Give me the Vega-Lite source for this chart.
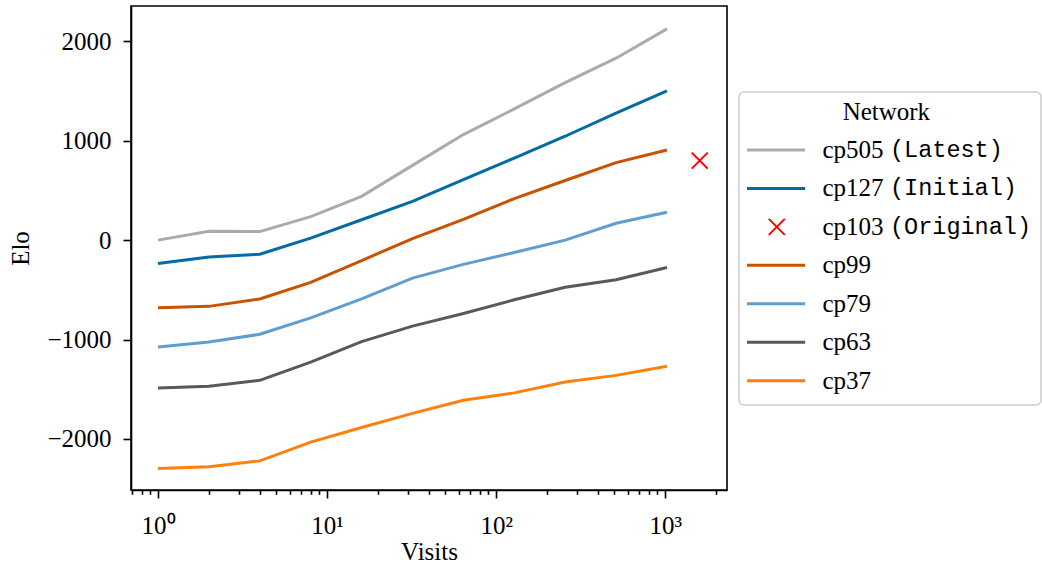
{
  "$schema": "https://vega.github.io/schema/vega-lite/v6.json",
  "background": "white",
  "padding": {"left": 7, "top": 5, "right": 0, "bottom": 0},
  "spacing": 10,
  "datasets": {
    "lines": [
      {"network": "cp505", "visits": 1, "elo": 0},
      {"network": "cp505", "visits": 2, "elo": 90},
      {"network": "cp505", "visits": 4, "elo": 86},
      {"network": "cp505", "visits": 8, "elo": 236},
      {"network": "cp505", "visits": 16, "elo": 440},
      {"network": "cp505", "visits": 32, "elo": 752},
      {"network": "cp505", "visits": 64, "elo": 1062},
      {"network": "cp505", "visits": 128, "elo": 1320},
      {"network": "cp505", "visits": 256, "elo": 1585},
      {"network": "cp505", "visits": 512, "elo": 1830},
      {"network": "cp505", "visits": 1024, "elo": 2125},
      {"network": "cp127", "visits": 1, "elo": -235},
      {"network": "cp127", "visits": 2, "elo": -170},
      {"network": "cp127", "visits": 4, "elo": -142},
      {"network": "cp127", "visits": 8, "elo": 20},
      {"network": "cp127", "visits": 16, "elo": 205},
      {"network": "cp127", "visits": 32, "elo": 390},
      {"network": "cp127", "visits": 64, "elo": 608},
      {"network": "cp127", "visits": 128, "elo": 826},
      {"network": "cp127", "visits": 256, "elo": 1045},
      {"network": "cp127", "visits": 512, "elo": 1278},
      {"network": "cp127", "visits": 1024, "elo": 1502},
      {"network": "cp99", "visits": 1, "elo": -680},
      {"network": "cp99", "visits": 2, "elo": -666},
      {"network": "cp99", "visits": 4, "elo": -592},
      {"network": "cp99", "visits": 8, "elo": -425},
      {"network": "cp99", "visits": 16, "elo": -205},
      {"network": "cp99", "visits": 32, "elo": 15},
      {"network": "cp99", "visits": 64, "elo": 208},
      {"network": "cp99", "visits": 128, "elo": 418},
      {"network": "cp99", "visits": 256, "elo": 600},
      {"network": "cp99", "visits": 512, "elo": 780},
      {"network": "cp99", "visits": 1024, "elo": 906},
      {"network": "cp79", "visits": 1, "elo": -1074},
      {"network": "cp79", "visits": 2, "elo": -1025},
      {"network": "cp79", "visits": 4, "elo": -947},
      {"network": "cp79", "visits": 8, "elo": -782},
      {"network": "cp79", "visits": 16, "elo": -590},
      {"network": "cp79", "visits": 32, "elo": -382},
      {"network": "cp79", "visits": 64, "elo": -244},
      {"network": "cp79", "visits": 128, "elo": -124},
      {"network": "cp79", "visits": 256, "elo": 0},
      {"network": "cp79", "visits": 512, "elo": 170},
      {"network": "cp79", "visits": 1024, "elo": 280},
      {"network": "cp63", "visits": 1, "elo": -1487},
      {"network": "cp63", "visits": 2, "elo": -1470},
      {"network": "cp63", "visits": 4, "elo": -1410},
      {"network": "cp63", "visits": 8, "elo": -1226},
      {"network": "cp63", "visits": 16, "elo": -1020},
      {"network": "cp63", "visits": 32, "elo": -865},
      {"network": "cp63", "visits": 64, "elo": -738},
      {"network": "cp63", "visits": 128, "elo": -600},
      {"network": "cp63", "visits": 256, "elo": -473},
      {"network": "cp63", "visits": 512, "elo": -398},
      {"network": "cp63", "visits": 1024, "elo": -275},
      {"network": "cp37", "visits": 1, "elo": -2296},
      {"network": "cp37", "visits": 2, "elo": -2280},
      {"network": "cp37", "visits": 4, "elo": -2220},
      {"network": "cp37", "visits": 8, "elo": -2031},
      {"network": "cp37", "visits": 16, "elo": -1885},
      {"network": "cp37", "visits": 32, "elo": -1742},
      {"network": "cp37", "visits": 64, "elo": -1611},
      {"network": "cp37", "visits": 128, "elo": -1536},
      {"network": "cp37", "visits": 256, "elo": -1427},
      {"network": "cp37", "visits": 512, "elo": -1360},
      {"network": "cp37", "visits": 1024, "elo": -1269}
    ],
    "marker": [
      {"network": "cp103", "visits": 1600, "elo": 800}
    ],
    "legend": [
      {"network": "cp505", "suffix": "(Latest)", "order": 1},
      {"network": "cp127", "suffix": "(Initial)", "order": 2},
      {"network": "cp103", "suffix": "(Original)", "order": 3},
      {"network": "cp99", "suffix": "", "order": 4},
      {"network": "cp79", "suffix": "", "order": 5},
      {"network": "cp63", "suffix": "", "order": 6},
      {"network": "cp37", "suffix": "", "order": 7}
    ]
  },
  "config": {
    "view": {"stroke": "black", "strokeWidth": 1.6},
    "axis": {
      "labelFont": "Liberation Serif",
      "labelFontSize": 25,
      "labelColor": "black",
      "titleFont": "Liberation Serif",
      "titleFontSize": 25,
      "titleFontWeight": "normal",
      "titleColor": "black",
      "domainColor": "black",
      "domainWidth": 1.6,
      "tickColor": "black",
      "tickWidth": 1.6,
      "grid": false
    },
    "text": {"color": "black"}
  },
  "hconcat": [
    {
      "width": 596,
      "height": 484,
      "layer": [
        {
          "data": {"name": "lines"},
          "mark": {"type": "line", "strokeWidth": 3},
          "encoding": {
            "x": {
              "field": "visits",
              "type": "quantitative",
              "scale": {"type": "log", "domain": [0.692, 2320], "nice": false},
              "axis": {
                "orient": "bottom",
                "values": [1, 10, 100, 1000],
                "labelExpr": "datum.value == 1 ? '10⁰' : datum.value == 10 ? '10¹' : datum.value == 100 ? '10²' : '10³'",
                "tickSize": 8,
                "labelBaseline": "alphabetic",
                "labelPadding": 35,
                "labelFlush": false,
                "labelOverlap": false,
                "title": "Visits",
                "titleBaseline": "alphabetic",
                "titleY": 69
              }
            },
            "y": {
              "field": "elo",
              "type": "quantitative",
              "scale": {"domain": [-2513, 2355], "nice": false, "zero": false},
              "axis": {
                "values": [-2000, -1000, 0, 1000, 2000],
                "format": "d",
                "tickSize": 8,
                "labelPadding": 12,
                "title": "Elo",
                "titleX": -103,
                "titleY": 242,
                "titleAngle": 270,
                "titleBaseline": "alphabetic",
                "titleAlign": "center"
              }
            },
            "color": {
              "field": "network",
              "type": "nominal",
              "scale": {
                "domain": ["cp505", "cp127", "cp103", "cp99", "cp79", "cp63", "cp37"],
                "range": ["#ABABAB", "#006BA4", "#FF0000", "#C85200", "#5F9ED1", "#595959", "#FF800E"]
              },
              "legend": null
            }
          }
        },
        {
          "data": {"name": "marker"},
          "mark": {
            "type": "point",
            "shape": "M-1,-1L1,1M-1,1L1,-1",
            "filled": false,
            "size": 256,
            "strokeWidth": 2,
            "opacity": 1
          },
          "encoding": {
            "x": {
              "field": "visits",
              "type": "quantitative",
              "axis": {
                "orient": "bottom",
                "values": [0.7, 0.8, 0.9, 2, 3, 4, 5, 6, 7, 8, 9, 20, 30, 40, 50, 60, 70, 80, 90, 200, 300, 400, 500, 600, 700, 800, 900, 2000],
                "labels": false,
                "domain": false,
                "tickSize": 4.3,
                "title": null
              }
            },
            "y": {"field": "elo", "type": "quantitative"},
            "color": {"field": "network", "type": "nominal", "legend": null}
          }
        }
      ],
      "resolve": {"axis": {"x": "independent"}}
    },
    {
      "width": 302,
      "height": 484,
      "view": {"stroke": null},
      "layer": [
        {
          "data": {"values": [{}]},
          "mark": {"type": "rect", "fill": "white", "stroke": "#cccccc", "strokeWidth": 1.5, "cornerRadius": 5},
          "encoding": {
            "x": {"datum": 0, "type": "quantitative", "scale": {"domain": [0, 100], "nice": false, "zero": false}, "axis": null},
            "x2": {"datum": 100},
            "y": {"datum": -0.508, "type": "quantitative", "scale": {"domain": [-2.745, 9.843], "reverse": true, "nice": false, "zero": false}, "axis": null},
            "y2": {"datum": 7.632}
          }
        },
        {
          "data": {"values": [{}]},
          "mark": {"type": "text", "text": "Network", "font": "Liberation Serif", "fontSize": 25, "align": "center", "baseline": "middle"},
          "encoding": {
            "x": {"datum": 48.8, "type": "quantitative"},
            "y": {"datum": 0, "type": "quantitative"}
          }
        },
        {
          "data": {"name": "legend"},
          "transform": [{"filter": "datum.network != 'cp103'"}],
          "mark": {"type": "rule", "strokeWidth": 3},
          "encoding": {
            "x": {"datum": 2.65, "type": "quantitative"},
            "x2": {"datum": 21.9},
            "y": {"field": "order", "type": "quantitative"},
            "color": {
              "field": "network",
              "type": "nominal",
              "scale": {
                "domain": ["cp505", "cp127", "cp103", "cp99", "cp79", "cp63", "cp37"],
                "range": ["#ABABAB", "#006BA4", "#FF0000", "#C85200", "#5F9ED1", "#595959", "#FF800E"]
              },
              "legend": null
            }
          }
        },
        {
          "data": {"name": "legend"},
          "transform": [{"filter": "datum.network == 'cp103'"}],
          "mark": {
            "type": "point",
            "shape": "M-1,-1L1,1M-1,1L1,-1",
            "filled": false,
            "size": 256,
            "strokeWidth": 2,
            "opacity": 1
          },
          "encoding": {
            "x": {"datum": 12.5, "type": "quantitative"},
            "y": {"field": "order", "type": "quantitative"},
            "color": {"field": "network", "type": "nominal", "legend": null}
          }
        },
        {
          "data": {"name": "legend"},
          "mark": {"type": "text", "font": "Liberation Serif", "fontSize": 25, "align": "left", "baseline": "middle"},
          "encoding": {
            "x": {"datum": 27.65, "type": "quantitative"},
            "y": {"field": "order", "type": "quantitative"},
            "text": {"field": "network"}
          }
        },
        {
          "data": {"name": "legend"},
          "mark": {"type": "text", "font": "Liberation Mono", "fontSize": 23.5, "align": "left", "baseline": "middle"},
          "encoding": {
            "x": {"datum": 50.0, "type": "quantitative"},
            "y": {"field": "order", "type": "quantitative"},
            "text": {"field": "suffix"}
          }
        }
      ]
    }
  ]
}
